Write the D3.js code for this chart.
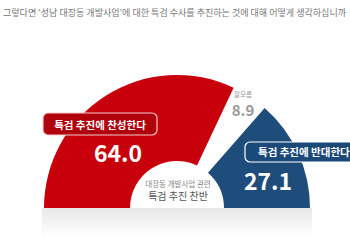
<!DOCTYPE html>
<html>
<head>
<meta charset="utf-8">
<script src="https://cdn.jsdelivr.net/npm/d3@7"></script>
<style>
  body { margin: 0; background: #fff; }
  svg { display: block; font-family: "Noto Sans CJK KR", "Noto Sans", sans-serif; }
</style>
</head>
<body>
<div id="chart"></div>
<script>
// --- data ---
const categories = ["특검 추진에 찬성한다", "잘모름", "특검 추진에 반대한다"];
const values = [64.0, 8.9, 27.1];
const sliceColors = ["#c8000b", "none", "#1f4d7b"];

const width = 350, height = 250;
const cx = 177, cy = 208;

const svg = d3.select("#chart").append("svg").attr("width", width).attr("height", height);

// title question - shrink to fit the width
const title = svg.append("text").attr("x", 3).attr("y", 16)
  .attr("font-size", 9.2).attr("fill", "#777")
  .text("그렇다면 ‘성남 대장동 개발사업’에 대한 특검 수사를 추진하는 것에 대해 어떻게 생각하십니까");
const tw = title.node().getComputedTextLength();
if (tw > 343) title.attr("font-size", 9.2 * 343 / tw);

// faint reflection under the baseline
const defs = svg.append("defs");
const grad = defs.append("linearGradient").attr("id", "refl").attr("x1", 0).attr("x2", 0).attr("y1", 0).attr("y2", 1);
grad.append("stop").attr("offset", 0).attr("stop-color", "#e8e8e8");
grad.append("stop").attr("offset", 1).attr("stop-color", "#fff");
svg.append("rect").attr("x", cx - 135).attr("y", cy).attr("width", 270).attr("height", 30).attr("fill", "url(#refl)");

const pie = d3.pie().sort(null).startAngle(-Math.PI / 2).endAngle(Math.PI / 2);
const arc = d3.arc().innerRadius(47).outerRadius(133);
const arcs = pie(values);

const g = svg.append("g").attr("transform", `translate(${cx},${cy})`);
g.selectAll("path.slice").data(arcs).join("path").attr("class", "slice")
  .attr("d", arc)
  .attr("fill", (d, i) => sliceColors[i]);

// center text
g.append("text").attr("x", 1).attr("y", -21).attr("text-anchor", "middle")
  .attr("font-size", 7.5).attr("fill", "#888").text("대장동 개발사업 관련");
g.append("text").attr("x", 1).attr("y", -8).attr("text-anchor", "middle")
  .attr("font-size", 10).attr("fill", "#555").text("특검 추진 찬반");

// red label
const redBox = svg.append("g");
redBox.append("rect").attr("x", 43).attr("y", 113).attr("width", 114).attr("height", 22).attr("rx", 5)
  .attr("fill", "#b0000c").attr("stroke", "#f3c9c9").attr("stroke-width", 1.2);
redBox.append("text").attr("x", 100).attr("y", 128.5).attr("text-anchor", "middle")
  .attr("font-size", 10.5).attr("font-weight", "bold").attr("fill", "#fff").text(categories[0]);
svg.append("text").attr("x", 118).attr("y", 162).attr("text-anchor", "middle")
  .attr("font-size", 23).attr("font-weight", "bold").attr("fill", "#fff").text(values[0].toFixed(1));

// unknown label
svg.append("text").attr("x", 243).attr("y", 97).attr("text-anchor", "middle")
  .attr("font-size", 6.5).attr("fill", "#999").text(categories[1]);
svg.append("text").attr("x", 243).attr("y", 116).attr("text-anchor", "middle")
  .attr("font-size", 15).attr("font-weight", "bold").attr("fill", "#999").text(values[1].toFixed(1));

// blue label
const blueBox = svg.append("g");
blueBox.append("rect").attr("x", 245).attr("y", 142).attr("width", 115).attr("height", 20).attr("rx", 5)
  .attr("fill", "#1c4a78").attr("stroke", "#fff").attr("stroke-width", 1.2);
blueBox.append("text").attr("x", 258).attr("y", 156).attr("font-size", 10.5).attr("font-weight", "bold")
  .attr("fill", "#fff").text(categories[2]);
svg.append("text").attr("x", 268).attr("y", 190).attr("text-anchor", "middle")
  .attr("font-size", 23).attr("font-weight", "bold").attr("fill", "#fff").text(values[2].toFixed(1));
</script>
</body>
</html>
